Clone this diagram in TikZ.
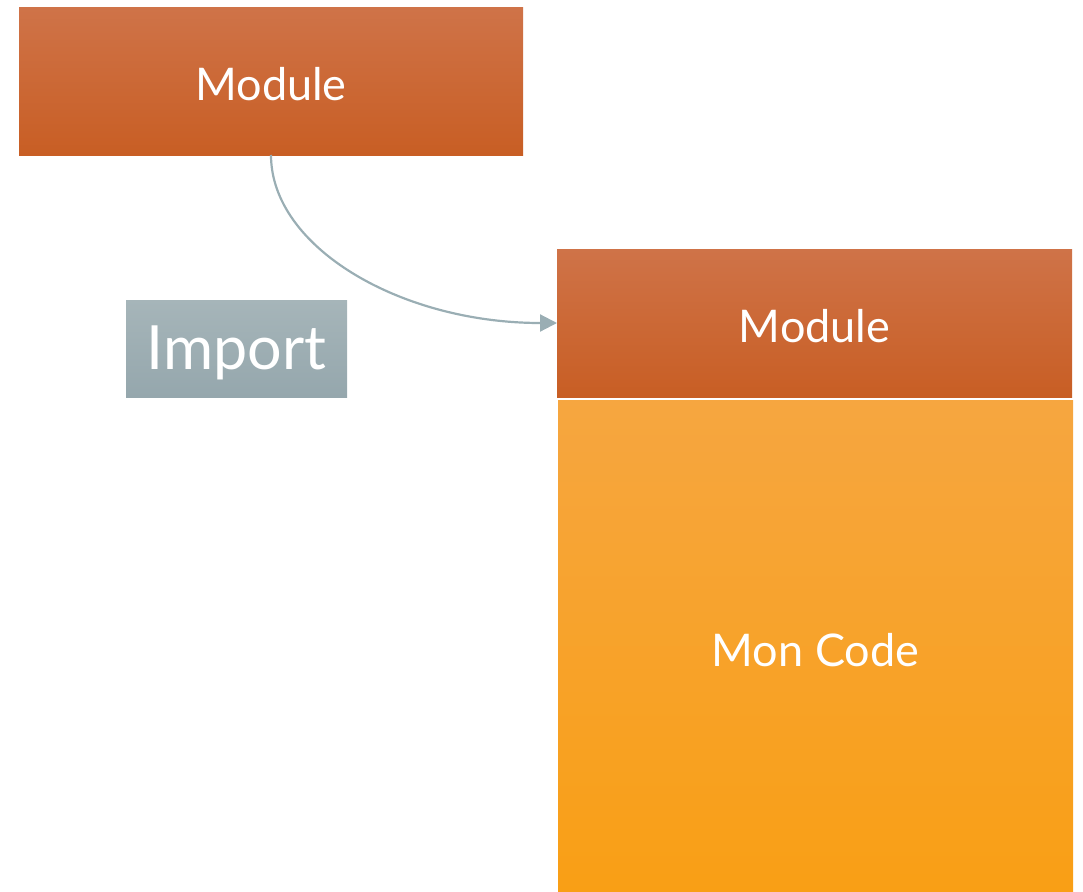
\documentclass[tikz,border=0pt]{standalone}
\usepackage{fontspec}
\setmainfont{Lato}
\usetikzlibrary{arrows.meta}

\definecolor{rustTop}{RGB}{207,115,72}
\definecolor{rustBot}{RGB}{200,94,36}
\definecolor{ambTop}{RGB}{246,166,64}
\definecolor{ambBot}{RGB}{249,159,21}
\definecolor{slateTop}{RGB}{166,181,185}
\definecolor{slateBot}{RGB}{149,167,173}
\definecolor{linkGray}{RGB}{154,174,180}

% lower a label a little without changing the size of its box
\newcommand{\lowered}[2]{\raisebox{-#1}[\height][\depth]{#2}}

\tikzset{
  block/.style={anchor=north west, inner sep=0pt, outer sep=0pt,
    text=white, align=center},
  modbox/.style={block, top color=rustTop, bottom color=rustBot,
    font=\fontsize{45}{50}\selectfont},
  codebox/.style={block, top color=ambTop, bottom color=ambBot,
    font=\fontsize{45}{50}\selectfont},
  tagbox/.style={block, top color=slateTop, bottom color=slateBot,
    font=\fontsize{61}{66}\selectfont},
  link/.style={draw=linkGray, line width=2.2pt,
    -{Triangle[length=17pt,width=17pt]}},
}

\begin{document}
\begin{tikzpicture}[x=1pt,y=-1pt]
  \useasboundingbox (0,0) rectangle (1083,891);

  % imported module
  \node[modbox, minimum width=504pt, minimum height=147pt] (src) at (19,8)
    {\lowered{3pt}{Module}};

  % label of the relation
  \node[tagbox, minimum width=221pt, minimum height=97pt] (imp) at (126,300)
    {\lowered{4pt}{Import}};

  % module inside the program
  \node[modbox, minimum width=515pt, minimum height=148pt] (dst) at (557,249)
    {\lowered{3pt}{Module}};

  % own code below it
  \node[codebox, minimum width=515pt, minimum height=491pt] (code) at (558,400)
    {\lowered{5pt}{Mon Code}};

  % import connector: quarter ellipse from the top module to the other one
  \draw[link] (src.south) .. controls +(0,92) and +(-157,0) .. (dst.west);
\end{tikzpicture}
\end{document}
